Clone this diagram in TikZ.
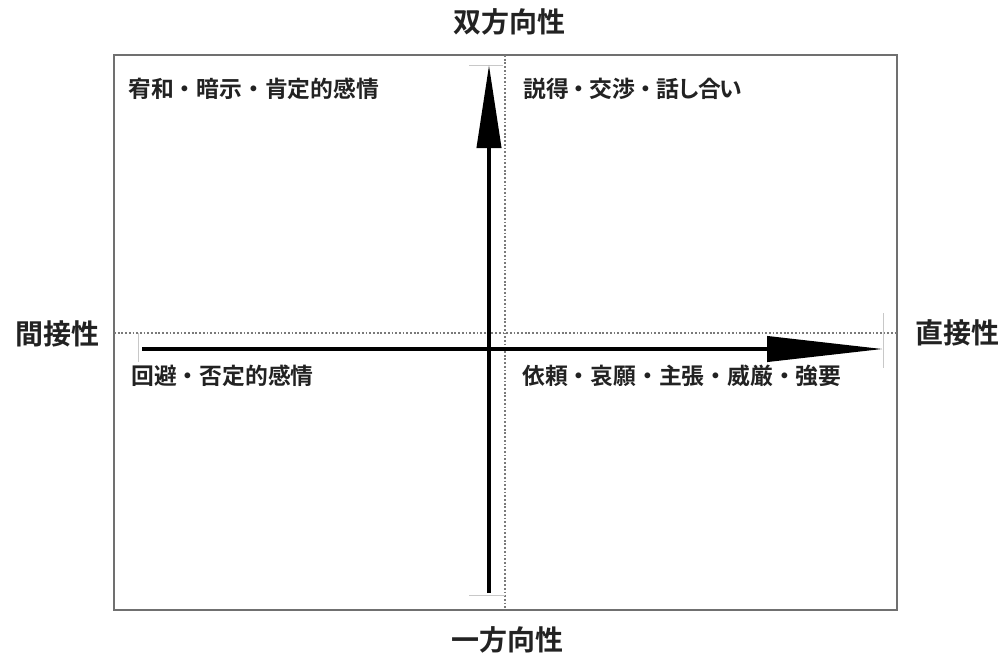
\documentclass[tikz,border=0pt]{standalone}
\usepackage{fontspec}
\newfontfamily\jp{Noto Sans CJK JP}[BoldFont={Noto Sans CJK JP Bold}]
\newfontfamily\jpp{Noto Sans CJK JP}[BoldFont={Noto Sans CJK JP Bold}, RawFeature=+palt]
\usetikzlibrary{arrows.meta}
\definecolor{txt}{HTML}{222222}
\definecolor{framegray}{HTML}{707070}
\definecolor{dotgray}{HTML}{7A7A7A}
\definecolor{tickgray}{HTML}{C8C8C8}
\tikzset{
  axislabel/.style={font=\jp\bfseries\fontsize{28}{31}\selectfont, text=txt, inner sep=0pt},
  quadlabel/.style={font=\jp\bfseries\fontsize{22.8}{26}\selectfont, text=txt, inner sep=0pt, anchor=west},
  frameline/.style={draw=framegray, line width=2pt},
  dotline/.style={draw=dotgray, line width=1.8pt, dash pattern=on 1.8pt off 1.9pt},
  axisarrow/.style={draw=black, line width=4pt},
  tick/.style={draw=tickgray, line width=1pt}
}
\begin{document}
\begin{tikzpicture}[x=1pt,y=-1pt]
\useasboundingbox (0,0) rectangle (1003,657);
% frame
\coordinate (fNW) at (114,55);
\coordinate (fSE) at (897,610);
\draw[frameline] (fNW) rectangle (fSE);
% dotted center lines
\coordinate (dTop) at (505,55);
\coordinate (dBot) at (505,610);
\coordinate (dLeft) at (114,333);
\coordinate (dRight) at (897,333);
\draw[dotline] (dTop) -- (dBot);
\draw[dotline] (dLeft) -- (dRight);
% tick lines
\coordinate (tTopL) at (469,65);
\coordinate (tTopR) at (503,65);
\coordinate (tBotL) at (469,595);
\coordinate (tBotR) at (505,595);
\coordinate (tLeftT) at (138,333);
\coordinate (tLeftB) at (138,362);
\coordinate (tRightT) at (883,313);
\coordinate (tRightB) at (883,368);
\draw[tick] (tTopL) -- (tTopR);
\draw[tick] (tBotL) -- (tBotR);
\draw[tick] (tLeftT) -- (tLeftB);
\draw[tick] (tRightT) -- (tRightB);
% axes
\coordinate (vStart) at (489,593);
\coordinate (vEnd) at (489,65);
\coordinate (hStart) at (142,349);
\coordinate (hEnd) at (883,349);
\draw[axisarrow, -{Triangle[length=83pt,width=24pt]}] (vStart) -- (vEnd);
\draw[axisarrow, -{Triangle[length=116pt,width=25pt]}] (hStart) -- (hEnd);
% axis labels
\node[axislabel] (top) at (509,22) {双方向性};
\node[axislabel] (bottom) at (507,640) {一方向性};
\node[axislabel] (left) at (57,334) {間接性};
\node[axislabel] (right) at (957,333) {直接性};
% quadrant labels
\node[quadlabel] (q1) at (128,89) {宥和・暗示・肯定的感情};
\node[quadlabel] (q2) at (523,89) {説得\hspace{-1pt}・\hspace{-1pt}交渉\hspace{-1pt}・\hspace{-1pt}話\hspace{-1pt}し\hspace{-2pt}合\hspace{-2pt}い};
\node[quadlabel] (q3) at (131,376) {回避・否定的感情};
\node[quadlabel] (q4) at (522,376) {依頼・哀願・主張・威厳・強要};
\end{tikzpicture}
\end{document}
